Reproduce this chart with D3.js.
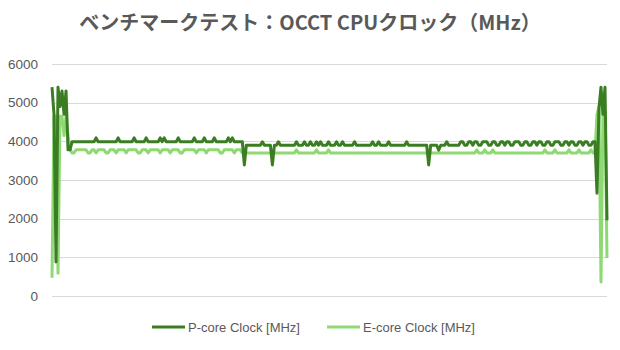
<!DOCTYPE html>
<html>
<head>
<meta charset="utf-8">
<script src="https://cdn.jsdelivr.net/npm/d3@7"></script>
<style>
  body { margin: 0; background: #fff; }
  text { font-family: "Liberation Sans", Arial, sans-serif; fill: #595959; }
</style>
</head>
<body>
<svg id="chart"></svg>
<script>
// chart values (one sample every ~2px)
const title = "ベンチマークテスト：OCCT CPUクロック（MHz）"
const seriesNames = ["P-core Clock [MHz]", "E-core Clock [MHz]"]
const yTicks = [0, 1000, 2000, 3000, 4000, 5000, 6000]

const pCore = [
  5400,4700,880,5400,4900,5300,4700,5300,3780,3780,
  3990,3990,3990,3990,3990,3990,3990,3990,3990,3990,
  3990,3990,4090,3990,3990,3990,3990,3990,3990,3990,
  3990,3990,3990,4090,3990,3990,3990,3990,3990,3990,
  3990,4090,3990,3990,3990,3990,3990,4090,3990,3990,
  3990,3990,3990,3990,4090,3990,4090,3990,3990,3990,
  3990,3990,3990,4090,3990,3990,3990,3990,3990,3990,
  3990,4090,3990,3990,3990,3990,4090,3990,3990,3990,
  3990,4090,3990,3990,3990,3990,3990,3990,4090,3990,
  4090,3990,3990,3990,3990,3990,3390,3900,3900,3900,
  3900,3900,3900,3900,3900,3990,3900,3900,3900,3900,
  3390,3900,3900,3990,3900,3900,3900,3900,3900,3900,
  3900,3900,3990,3900,3900,3900,3990,3900,3900,3990,
  3900,3900,3990,3900,3990,3900,3900,3900,3990,3900,
  3900,3900,3990,3900,3900,3990,3900,3900,3900,3900,
  3900,3990,3900,3900,3900,3900,3900,3900,3900,3900,
  3990,3900,3900,3990,3900,3900,3900,3900,3990,3900,
  3900,3900,3900,3900,3900,3900,3900,3990,3900,3900,
  3900,3900,3900,3900,3900,3900,3900,3900,3390,3900,
  3900,3900,3900,3770,3900,3900,3900,3990,3900,3900,
  3900,3900,3900,3900,3990,3990,3900,3900,3990,3990,
  3900,3990,3990,3900,3900,3990,3990,3990,3900,3900,
  3990,3990,3900,3900,3990,3990,3900,3990,3990,3900,
  3900,3990,3990,3990,3900,3900,3990,3990,3900,3900,
  3990,3990,3900,3990,3990,3900,3900,3990,3990,3900,
  3900,3990,3990,3990,3900,3900,3990,3990,3900,3990,
  3990,3900,3900,3990,3990,3900,3990,3990,3900,3900,
  3990,3990,2660,4860,5400,4700,5400,1960
]

const eCore = [
  470,4650,4650,590,4650,4650,4150,4650,4150,3780,
  3700,3700,3780,3780,3780,3780,3780,3780,3700,3700,
  3780,3780,3700,3780,3780,3780,3780,3700,3700,3780,
  3780,3780,3700,3780,3780,3780,3780,3700,3780,3780,
  3780,3780,3780,3700,3700,3780,3780,3780,3700,3780,
  3780,3780,3780,3780,3700,3780,3780,3780,3780,3700,
  3780,3780,3780,3780,3700,3700,3780,3780,3780,3780,
  3780,3780,3700,3780,3780,3780,3780,3700,3780,3780,
  3780,3780,3780,3780,3700,3700,3780,3780,3780,3780,
  3780,3700,3780,3780,3780,3700,3700,3700,3700,3700,
  3700,3700,3700,3700,3700,3700,3700,3700,3700,3700,
  3700,3700,3700,3700,3700,3700,3700,3700,3700,3700,
  3700,3700,3780,3700,3700,3700,3700,3700,3700,3700,
  3700,3700,3780,3700,3700,3700,3700,3700,3780,3700,
  3700,3700,3700,3700,3700,3700,3700,3700,3700,3700,
  3700,3700,3700,3700,3700,3700,3700,3700,3700,3700,
  3700,3700,3700,3700,3700,3700,3700,3700,3700,3700,
  3700,3700,3700,3700,3700,3700,3700,3700,3700,3700,
  3700,3700,3700,3700,3700,3700,3700,3700,3700,3700,
  3700,3700,3700,3700,3700,3700,3700,3700,3700,3700,
  3700,3700,3700,3700,3700,3700,3700,3700,3700,3700,
  3700,3700,3780,3700,3700,3700,3780,3700,3700,3700,
  3780,3700,3700,3700,3700,3700,3700,3700,3700,3700,
  3700,3700,3700,3700,3700,3700,3700,3700,3700,3700,
  3700,3700,3700,3700,3700,3700,3780,3700,3700,3700,
  3700,3780,3700,3700,3700,3700,3700,3700,3780,3700,
  3700,3700,3700,3780,3700,3700,3700,3700,3700,3780,
  3700,3700,4700,4900,360,4800,4800,980
]

const colors = ["#3b7d23", "#8ed973"]

const width = 620, height = 350
const margin = { top: 64, right: 13, bottom: 54, left: 52 }

let svg = d3.select("#chart")
  .attr("width", width)
  .attr("height", height)

// scales
let x = d3.scaleLinear()
  .domain([0, pCore.length - 1])
  .range([margin.left, width - margin.right])
let y = d3.scaleLinear()
  .domain([0, 6000])
  .range([height - margin.bottom, margin.top])

// title
svg.append("text")
  .attr("x", width / 2)
  .attr("y", 30)
  .attr("text-anchor", "middle")
  .style("font-family", "'Noto Sans CJK JP', sans-serif")
  .style("font-size", "20px")
  .style("font-weight", "bold")
  .text(title)

// gridlines
svg.append("g")
  .selectAll("line")
  .data(yTicks)
  .join("line")
  .attr("x1", margin.left)
  .attr("x2", width - margin.right)
  .attr("y1", d => Math.round(y(d)) + 0.5)
  .attr("y2", d => Math.round(y(d)) + 0.5)
  .attr("stroke", "#d9d9d9")
  .attr("stroke-width", 1)

// y axis labels
let yAxis = d3.axisLeft(y)
  .tickValues(yTicks)
  .tickSize(0)
  .tickPadding(0)
  .tickFormat(d3.format("d"))
let gy = svg.append("g")
  .attr("transform", `translate(${margin.left - 14},0)`)
  .call(yAxis)
gy.select(".domain").remove()
gy.selectAll("text")
  .style("font-size", "13.5px")
  .style("fill", "#595959")

// the two lines, P-core drawn last so it sits on top
let line = d3.line()
  .x((d, i) => x(i))
  .y(d => y(d))

svg.append("path")
  .datum(eCore)
  .attr("d", line)
  .attr("fill", "none")
  .attr("stroke", colors[1])
  .attr("stroke-width", 3)
  .attr("stroke-linejoin", "round")
svg.append("path")
  .datum(pCore)
  .attr("d", line)
  .attr("fill", "none")
  .attr("stroke", colors[0])
  .attr("stroke-width", 3)
  .attr("stroke-linejoin", "round")

// legend
let legendX = [152, 327]
let legend = svg.append("g")
  .selectAll("g")
  .data(seriesNames)
  .join("g")
  .attr("transform", (d, i) => `translate(${legendX[i]},327)`)
legend.append("line")
  .attr("x1", 0)
  .attr("x2", 33)
  .attr("stroke", (d, i) => colors[i])
  .attr("stroke-width", 3)
legend.append("text")
  .attr("x", 36)
  .attr("y", 5)
  .style("font-size", "13px")
  .text(d => d)
</script>
</body>
</html>
